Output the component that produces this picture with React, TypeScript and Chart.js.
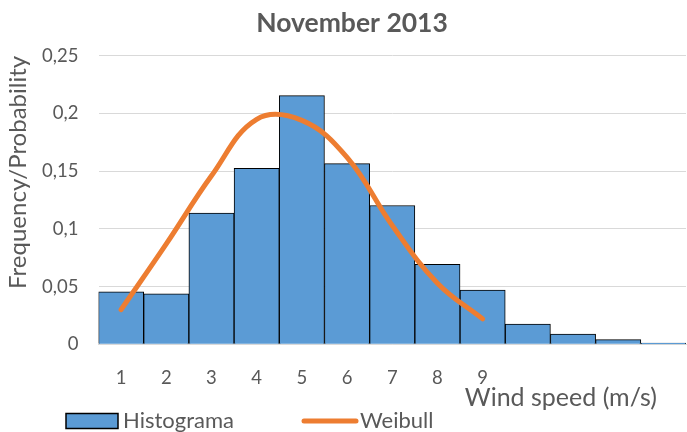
import React, { useEffect, useRef } from "react";
import { Chart, registerables } from "chart.js";

Chart.register(...registerables);

const categories = ["1", "2", "3", "4", "5", "6", "7", "8", "9", "", "", "", ""];
const histograma = [0.0454, 0.0437, 0.1137, 0.1524, 0.2155, 0.1565, 0.1203, 0.0694, 0.0469, 0.0176, 0.0089, 0.004, 0.0011];
const weibull = [0.03, 0.087, 0.146, 0.195, 0.194, 0.162, 0.103, 0.053, 0.022];
const yTicks = [0, 0.05, 0.1, 0.15, 0.2, 0.25];

const TEXT = "#595959";
const FONT = "Lato";
const BLUE = "#5B9BD5";
const ORANGE = "#ED7D31";

const extrasPlugin = {
  id: "extras",
  afterDraw(chart: any) {
    const ctx = chart.ctx;
    const area = chart.chartArea;
    ctx.save();
    // x axis title
    ctx.fillStyle = TEXT;
    ctx.font = `25px ${FONT}`;
    ctx.textAlign = "right";
    ctx.textBaseline = "middle";
    ctx.fillText("Wind speed (m/s)", area.right - 29, 398);

    // legend
    const ds = chart.data.datasets;
    const ly = 421;
    ctx.font = `22px ${FONT}`;
    ctx.textAlign = "left";
    // Histograma
    ctx.fillStyle = ds[1].backgroundColor;
    ctx.fillRect(66, 413.5, 52, 15);
    ctx.strokeStyle = "#000";
    ctx.lineWidth = 1.5;
    ctx.strokeRect(66, 413.5, 52, 15);
    ctx.fillStyle = TEXT;
    ctx.fillText(ds[1].label, 123, ly);
    // Weibull
    ctx.strokeStyle = ds[0].borderColor;
    ctx.lineWidth = 5;
    ctx.lineCap = "round";
    ctx.beginPath();
    ctx.moveTo(304, ly);
    ctx.lineTo(356, ly);
    ctx.stroke();
    ctx.fillStyle = TEXT;
    ctx.fillText(ds[0].label, 360, ly);
    ctx.restore();
  },
};

export default function App() {
  const ref = useRef<HTMLCanvasElement | null>(null);
  useEffect(() => {
    if (!ref.current) return;
    const chart = new Chart(ref.current, {
      type: "bar",
      data: {
        labels: categories,
        datasets: [
          {
            type: "line",
            label: "Weibull",
            data: weibull,
            borderColor: ORANGE,
            backgroundColor: ORANGE,
            borderWidth: 5,
            borderCapStyle: "round",
            borderJoinStyle: "round",
            pointRadius: 0,
            tension: 0.4,
            fill: false,
            order: 0,
          } as any,
          {
            type: "bar",
            label: "Histograma",
            data: histograma,
            backgroundColor: BLUE,
            borderColor: "#000",
            borderWidth: 1,
            borderSkipped: "bottom",
            categoryPercentage: 1,
            barPercentage: 1,
            order: 1,
          } as any,
        ],
      },
      options: {
        responsive: false,
        animation: false,
        devicePixelRatio: 1,
        layout: { padding: { top: 0, right: 1, bottom: 42.5, left: 18 } },
        plugins: {
          legend: { display: false },
          tooltip: { enabled: false },
          title: {
            display: true,
            text: "November 2013",
            color: TEXT,
            font: { family: FONT, size: 26.5, weight: "bold" },
            padding: { top: 8, bottom: 16 },
          },
        },
        scales: {
          x: {
            grid: { display: false, drawTicks: false, tickLength: 0 },
            border: { display: true, color: "#D9D9D9", width: 1 },
            ticks: {
              color: TEXT,
              font: { family: FONT, size: 18.5 },
              padding: 23,
              autoSkip: false,
              maxRotation: 0,
            },
            afterFit: (scale: any) => {
              scale.height = 45.2;
            },
          },
          y: {
            min: 0,
            max: 0.25,
            afterBuildTicks: (scale: any) => {
              scale.ticks = yTicks.map((v) => ({ value: v }));
            },
            afterFit: (scale: any) => {
              scale.width = 80.5;
            },
            grid: { color: "#D9D9D9", lineWidth: 1, drawTicks: false, tickLength: 0 },
            border: { display: false },
            ticks: {
              color: TEXT,
              font: { family: FONT, size: 18.5 },
              padding: 20,
              callback: (v: any) => String(Number(v)).replace(".", ","),
            },
            title: {
              display: true,
              align: "end",
              text: "Frequency/Probability",
              color: TEXT,
              font: { family: FONT, size: 24 },
              padding: { top: -14, bottom: 0 },
            },
          },
        },
      },
      plugins: [extrasPlugin],
    });
    return () => chart.destroy();
  }, []);
  return (
    <div style={{ position: "absolute", left: 0, top: 0, width: 687, height: 432, background: "#fff" }}>
      <canvas ref={ref} width={687} height={432} style={{ display: "block" }} />
    </div>
  );
}
